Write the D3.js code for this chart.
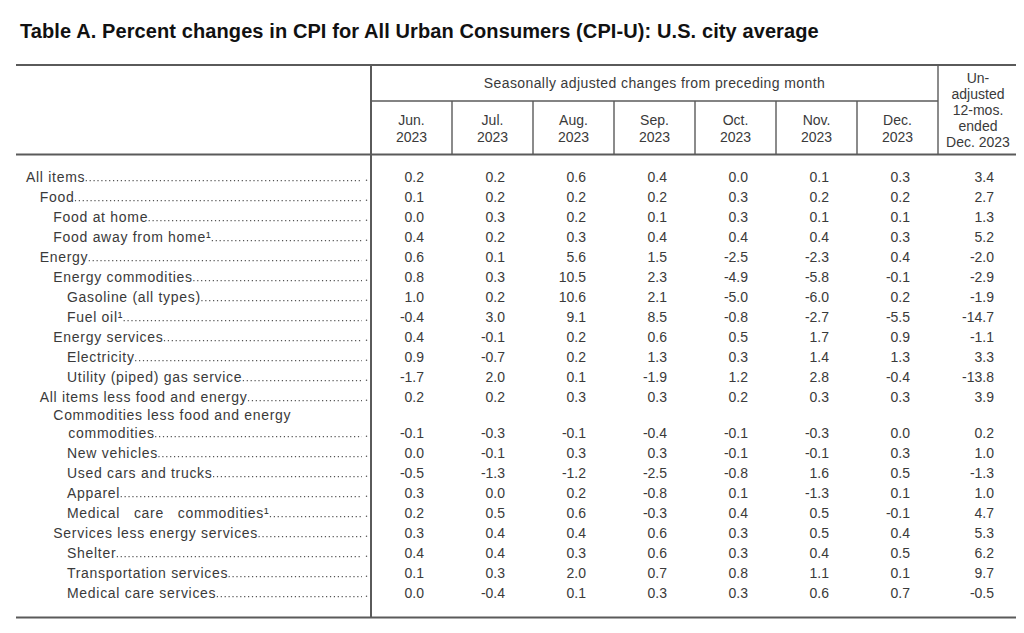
<!DOCTYPE html>
<html>
<head>
<meta charset="utf-8">
<script src="https://cdn.jsdelivr.net/npm/d3@7/dist/d3.min.js"></script>
<style>
  body { margin: 0; background: #fff; }
  svg { display: block; font-family: "Liberation Sans", Arial, sans-serif; }
</style>
</head>
<body>
<div id="table"></div>
<script>
// Table A values (percent changes)

var title = "Table A. Percent changes in CPI for All Urban Consumers (CPI-U): U.S. city average";
var groupHeader = "Seasonally adjusted changes from preceding month";

// column heads, lines split by "|"
var monthHeads = ["Jun.|2023", "Jul.|2023", "Aug.|2023", "Sep.|2023", "Oct.|2023", "Nov.|2023", "Dec.|2023"];
var annualHead = "Un-|adjusted|12-mos.|ended|Dec. 2023";

// row labels, with hierarchy level
var items = [
  "All items",
  "Food",
  "Food at home",
  "Food away from home¹",
  "Energy",
  "Energy commodities",
  "Gasoline (all types)",
  "Fuel oil¹",
  "Energy services",
  "Electricity",
  "Utility (piped) gas service",
  "All items less food and energy",
  "Commodities less food and energy|commodities",
  "New vehicles",
  "Used cars and trucks",
  "Apparel",
  "Medical   care   commodities¹",
  "Services less energy services",
  "Shelter",
  "Transportation services",
  "Medical care services"
];
var levels = [0, 1, 2, 2, 1, 2, 3, 3, 2, 3, 3, 1, 2, 3, 3, 3, 3, 2, 3, 3, 3];

var jun2023 = [0.2, 0.1, 0.0, 0.4, 0.6, 0.8, 1.0, -0.4, 0.4, 0.9, -1.7, 0.2, -0.1, 0.0, -0.5, 0.3, 0.2, 0.3, 0.4, 0.1, 0.0];
var jul2023 = [0.2, 0.2, 0.3, 0.2, 0.1, 0.3, 0.2, 3.0, -0.1, -0.7, 2.0, 0.2, -0.3, -0.1, -1.3, 0.0, 0.5, 0.4, 0.4, 0.3, -0.4];
var aug2023 = [0.6, 0.2, 0.2, 0.3, 5.6, 10.5, 10.6, 9.1, 0.2, 0.2, 0.1, 0.3, -0.1, 0.3, -1.2, 0.2, 0.6, 0.4, 0.3, 2.0, 0.1];
var sep2023 = [0.4, 0.2, 0.1, 0.4, 1.5, 2.3, 2.1, 8.5, 0.6, 1.3, -1.9, 0.3, -0.4, 0.3, -2.5, -0.8, -0.3, 0.6, 0.6, 0.7, 0.3];
var oct2023 = [0.0, 0.3, 0.3, 0.4, -2.5, -4.9, -5.0, -0.8, 0.5, 0.3, 1.2, 0.2, -0.1, -0.1, -0.8, 0.1, 0.4, 0.3, 0.3, 0.8, 0.3];
var nov2023 = [0.1, 0.2, 0.1, 0.4, -2.3, -5.8, -6.0, -2.7, 1.7, 1.4, 2.8, 0.3, -0.3, -0.1, 1.6, -1.3, 0.5, 0.5, 0.4, 1.1, 0.6];
var dec2023 = [0.3, 0.2, 0.1, 0.3, 0.4, -0.1, 0.2, -5.5, 0.9, 1.3, -0.4, 0.3, 0.0, 0.3, 0.5, 0.1, -0.1, 0.4, 0.5, 0.1, 0.7];
var unadj12mo = [3.4, 2.7, 1.3, 5.2, -2.0, -2.9, -1.9, -14.7, -1.1, 3.3, -13.8, 3.9, 0.2, 1.0, -1.3, 1.0, 4.7, 5.3, 6.2, 9.7, -0.5];

var columns = ["jun", "jul", "aug", "sep", "oct", "nov", "dec", "annual"];
var series = [jun2023, jul2023, aug2023, sep2023, oct2023, nov2023, dec2023, unadj12mo];

// page size
var width = 1024;
var height = 633;

// table frame
var tableLeft = 16;
var tableRight = 1016;
var stubRight = 371;
var colWidth = 81;
var tableTop = 65;
var groupLine = 101;
var headBottom = 154.5;
var tableBottom = 617.5;

var textColor = "#3a3a3a";
var ruleColor = "#5a5a5a";

var fmt = d3.formatLocale({ decimal: ".", thousands: ",", grouping: [3], currency: ["$", ""], minus: "-" }).format(".1f");

// build rows: each row keeps how many extra label lines it has
var slot = 0;
var rows = items.map(function(label, i) {
  var lines = label.split("|");
  slot += (lines.length - 1) * 0.8;
  var row = {
    lines: lines,
    level: levels[i],
    slot: slot,
    values: series.map(function(s) { return s[i]; })
  };
  slot += 1;
  return row;
});

var x = d3.scaleBand()
  .domain(columns)
  .range([stubRight, stubRight + colWidth * columns.length]);

var y = d3.scaleLinear()
  .domain([0, 1])
  .range([181.5, 201.5]);

var indent = d3.scaleLinear()
  .domain([0, 3])
  .range([26, 67]);

var svg = d3.select("#table")
  .append("svg")
  .attr("width", width)
  .attr("height", height);

// title
svg.append("text")
  .attr("x", 20)
  .attr("y", 37.5)
  .attr("fill", "#111")
  .style("font-size", "20px")
  .style("font-weight", "bold")
  .style("letter-spacing", "0.1px")
  .text(title);

// rules
var rules = svg.append("g").attr("stroke", ruleColor).attr("fill", "none");

[tableTop, headBottom, tableBottom].forEach(function(yy) {
  rules.append("line")
    .attr("x1", tableLeft).attr("x2", tableRight)
    .attr("y1", yy).attr("y2", yy)
    .attr("stroke-width", 2);
});

rules.append("line")
  .attr("x1", stubRight).attr("x2", stubRight)
  .attr("y1", tableTop).attr("y2", tableBottom)
  .attr("stroke-width", 2);

rules.append("line")
  .attr("x1", stubRight).attr("x2", x("annual"))
  .attr("y1", groupLine).attr("y2", groupLine)
  .attr("stroke-width", 1.4);

rules.append("line")
  .attr("x1", x("annual")).attr("x2", x("annual"))
  .attr("y1", tableTop).attr("y2", headBottom)
  .attr("stroke-width", 1.4);

rules.selectAll("line.sep")
  .data(columns.slice(1, 7))
  .enter().append("line")
  .attr("class", "sep")
  .attr("x1", function(d) { return x(d); })
  .attr("x2", function(d) { return x(d); })
  .attr("y1", groupLine).attr("y2", headBottom)
  .attr("stroke-width", 1.4);

// column headings
var head = svg.append("g")
  .attr("fill", textColor)
  .attr("text-anchor", "middle")
  .style("font-size", "14px");

head.append("text")
  .attr("x", (stubRight + x("annual")) / 2)
  .attr("y", 87.5)
  .style("letter-spacing", "0.4px")
  .text(groupHeader);

head.selectAll("text.month")
  .data(monthHeads)
  .enter().append("text")
  .attr("class", "month")
  .attr("x", function(d, i) { return x(columns[i]) + x.bandwidth() / 2; })
  .attr("y", 125)
  .selectAll("tspan")
  .data(function(d) { return d.split("|"); })
  .enter().append("tspan")
  .attr("x", function() { return this.parentNode.getAttribute("x"); })
  .attr("dy", function(d, i) { return i ? 17 : 0; })
  .text(function(d) { return d; });

head.append("text")
  .attr("x", (x("annual") + tableRight) / 2 + 1)
  .attr("y", 83)
  .selectAll("tspan")
  .data(annualHead.split("|"))
  .enter().append("tspan")
  .attr("x", (x("annual") + tableRight) / 2 + 1)
  .attr("dy", function(d, i) { return i ? 16.1 : 0; })
  .text(function(d) { return d; });

// stub labels with dot leaders
var stub = svg.append("g").attr("fill", textColor);

var rowG = stub.selectAll("g.row")
  .data(rows)
  .enter().append("g")
  .attr("class", "row");

rowG.each(function(d) {
  var g = d3.select(this);
  var base = y(d.slot);
  var lastEnd = 0;
  d.lines.forEach(function(line, k) {
    var lineY = base - (d.lines.length - 1 - k) * 18;
    var lx = indent(d.level) + (k > 0 ? 15 : 0);
    var t = g.append("text")
      .attr("x", lx)
      .attr("y", lineY)
      .style("font-size", "14px")
      .style("letter-spacing", "0.7px")
      .style("white-space", "pre")
      .text(line);
    lastEnd = lx + t.node().getBBox().width;
  });
  // leader runs from the label to the stub edge
  g.append("line")
    .attr("x1", lastEnd + 0.5).attr("x2", 362)
    .attr("y1", base - 0.8).attr("y2", base - 0.8)
    .attr("stroke", "#555")
    .attr("stroke-width", 1.2)
    .attr("stroke-dasharray", "1.2,2.7");
  g.append("circle")
    .attr("cx", 366.5)
    .attr("cy", base - 1.2)
    .attr("r", 0.75)
    .attr("fill", "#555");
});

// values
rowG.selectAll("text.val")
  .data(function(d) {
    return d.values.map(function(v, j) { return { col: columns[j], v: v, slot: d.slot }; });
  })
  .enter().append("text")
  .attr("class", "val")
  .attr("x", function(d) { return x(d.col) + x.bandwidth() - (d.col === "annual" ? 25 : 28); })
  .attr("y", function(d) { return y(d.slot); })
  .attr("text-anchor", "end")
  .style("font-size", "14px")
  .text(function(d) { return fmt(d.v); });
</script>
</body>
</html>
